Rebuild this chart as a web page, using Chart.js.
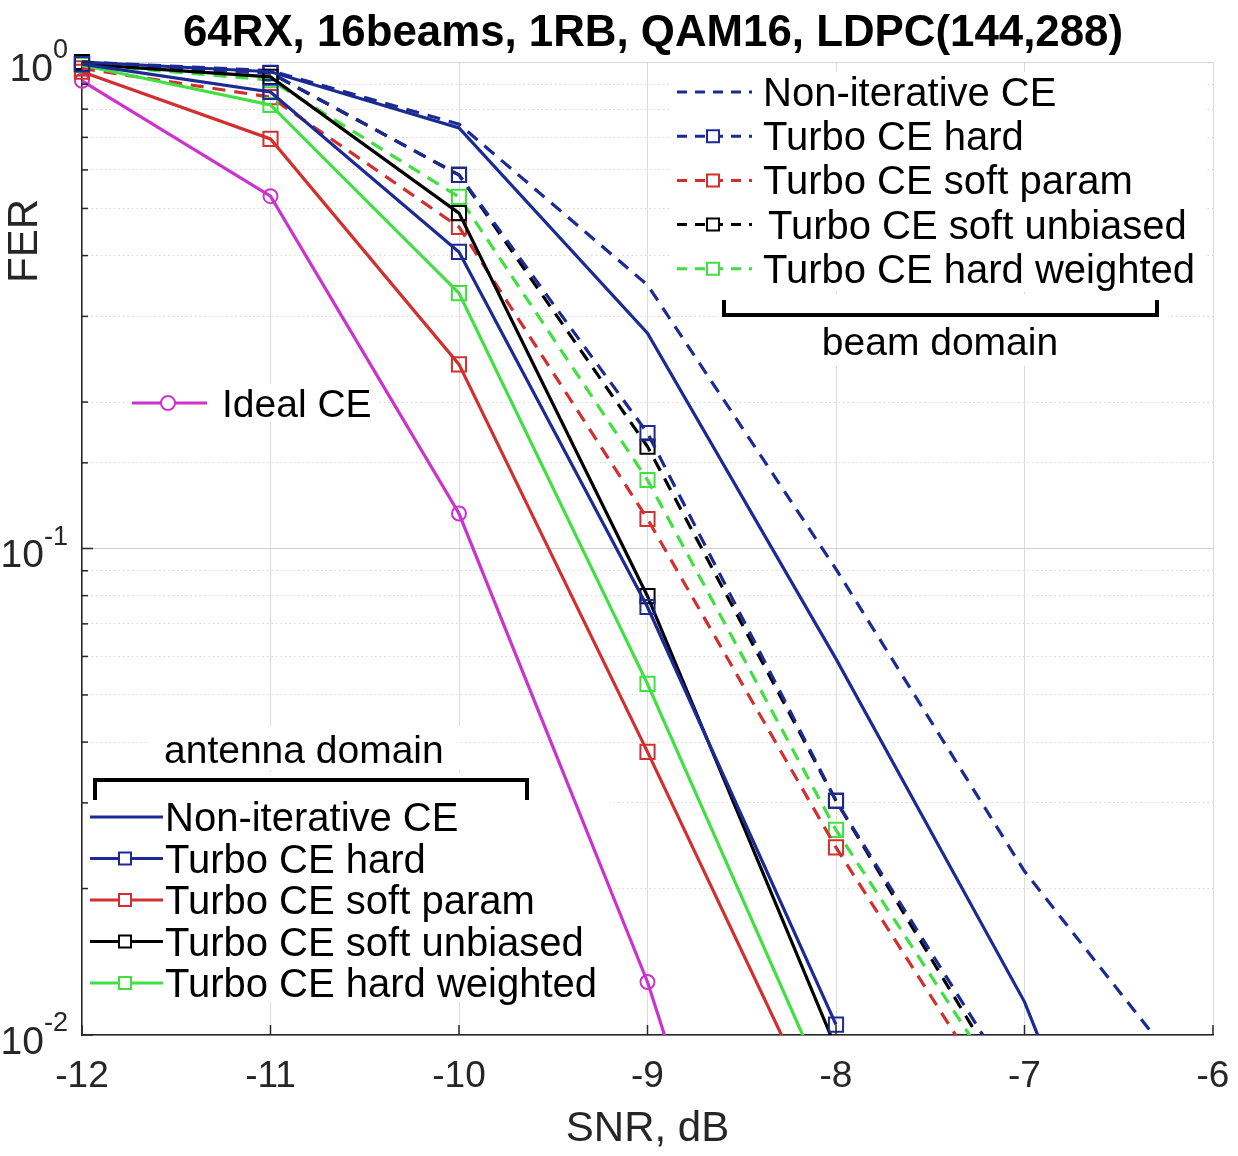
<!DOCTYPE html>
<html lang="en">
<head>
  <meta charset="UTF-8" />
  <title>FER vs SNR</title>
  <script src="https://cdn.jsdelivr.net/npm/chart.js"></script>
  <style>
    body { margin: 0; background: #fff; }
    #wrap { width: 1238px; height: 1156px; }
  </style>
</head>
<body>
  <div id="wrap"><canvas id="ferChart" width="1238" height="1156"></canvas></div>

  <script>
    // SNR grid (dB) and axis ticks
    const snr = [-12, -11, -10, -9, -8, -7, -6];
    const yTickValues = [1, 0.1, 0.01];
    const yTickExponents = ['0', '-1', '-2'];

    const titleText = '64RX, 16beams, 1RB, QAM16, LDPC(144,288)';
    const seriesLabels = ['Non-iterative CE', 'Turbo CE hard', 'Turbo CE soft param',
                          'Turbo CE soft unbiased', 'Turbo CE hard weighted'];

    // antenna domain (solid lines)
    const antNonIter   = [1.00, 0.955, 0.732, 0.277, 0.0593, 0.0117, 0.00125];
    const antHard      = [0.99, 0.868, 0.407, 0.0758, 0.0105, null, null];
    const antSoftParam = [0.955, 0.695, 0.239, 0.0382, 0.0058, null, null];
    const antSoftUnb   = [0.99, 0.932, 0.489, 0.0798, 0.0094, null, null];
    const antHardW     = [0.985, 0.816, 0.335, 0.0527, 0.0070, null, null];

    // beam domain (dashed lines)
    const beamNonIter   = [1.00, 0.96, 0.745, 0.348, 0.0907, 0.0217, 0.0070];
    const beamHard      = [0.99, 0.95, 0.586, 0.1727, 0.0303, 0.0073, null];
    const beamSoftParam = [0.97, 0.847, 0.458, 0.115, 0.0243, 0.0060, null];
    const beamSoftUnb   = [1.00, 0.949, 0.586, 0.162, 0.0303, 0.0069, null];
    const beamHardW     = [0.99, 0.918, 0.528, 0.1383, 0.0264, 0.0067, null];

    const idealCE = [0.915, 0.530, 0.118, 0.01285, 0.0008, null, null];

    const NAVY = '#1b2a94', RED = '#d22f2f', BLACK = '#000000', GREEN = '#3fe03f', MAGENTA = '#cc33cc';
    const FONT = '"Liberation Sans", Arial, sans-serif';

    function series(label, vals, color, group, marker) {
      return {
        label: label,
        group: group,
        data: snr.map((x, i) => ({ x: x, y: vals[i] })),
        borderColor: color,
        backgroundColor: color,
        borderWidth: 3.2,
        borderDash: group === 'beam' ? [13, 9] : [],
        pointStyle: marker || 'rect',
        pointRadius: marker === false ? 0 : (marker === 'circle' ? 7 : 10),
        pointHoverRadius: 0,
        pointBorderWidth: 2,
        pointBorderColor: color,
        pointBackgroundColor: 'rgba(0,0,0,0)',
        tension: 0,
        clip: { left: 14, top: 14, right: 14, bottom: 0 }
      };
    }

    const datasets = [
      series(seriesLabels[0], antNonIter, NAVY, 'antenna', false),
      series(seriesLabels[1], antHard, NAVY, 'antenna'),
      series(seriesLabels[2], antSoftParam, RED, 'antenna'),
      series(seriesLabels[3], antSoftUnb, BLACK, 'antenna'),
      series(seriesLabels[4], antHardW, GREEN, 'antenna'),
      series(seriesLabels[0], beamNonIter, NAVY, 'beam', false),
      series(seriesLabels[1], beamHard, NAVY, 'beam'),
      series(seriesLabels[2], beamSoftParam, RED, 'beam'),
      series(seriesLabels[3], beamSoftUnb, BLACK, 'beam'),
      series(seriesLabels[4], beamHardW, GREEN, 'beam'),
      series('Ideal CE', idealCE, MAGENTA, 'ideal', 'circle')
    ];

    const isDecade = v => Math.abs(Math.log10(v) - Math.round(Math.log10(v))) < 1e-6;

    function drawSample(ctx, ds, x1, x2, y, mx, dash) {
      ctx.save();
      ctx.strokeStyle = ds.borderColor;
      ctx.lineWidth = 3;
      ctx.setLineDash(dash);
      ctx.beginPath(); ctx.moveTo(x1, y); ctx.lineTo(x2, y); ctx.stroke();
      ctx.setLineDash([]);
      ctx.lineWidth = 2;
      if (ds.pointRadius > 0) {
        ctx.fillStyle = '#fff';
        ctx.beginPath();
        if (ds.pointStyle === 'circle') ctx.arc(mx, y, 7, 0, Math.PI * 2);
        else ctx.rect(mx - 6, y - 6, 12, 12);
        ctx.fill(); ctx.stroke();
      }
      ctx.restore();
    }

    function bracket(ctx, x1, x2, y, tip) {
      ctx.save();
      ctx.strokeStyle = '#000'; ctx.lineWidth = 4; ctx.lineJoin = 'miter';
      ctx.beginPath();
      ctx.moveTo(x1, y + tip); ctx.lineTo(x1, y); ctx.lineTo(x2, y); ctx.lineTo(x2, y + tip);
      ctx.stroke();
      ctx.restore();
    }

    const decor = {
      id: 'decor',
      beforeDatasetsDraw(chart) {
        const { ctx, chartArea: a, scales: { y } } = chart;
        ctx.save();
        // white backing of the pasted legends
        ctx.fillStyle = '#fff';
        ctx.fillRect(670, 72, 536, 220);
        ctx.fillRect(718, 294, 450, 72);
        ctx.fillRect(128, 384, 250, 38);
        ctx.fillRect(150, 726, 310, 44);
        ctx.fillRect(84, 772, 526, 230);
        // top edge
        ctx.strokeStyle = '#d4d4d4'; ctx.lineWidth = 1;
        const py = Math.round(y.getPixelForValue(1)) + 0.5;
        ctx.beginPath(); ctx.moveTo(a.left, py); ctx.lineTo(a.right, py); ctx.stroke();
        ctx.restore();
      },
      afterDatasetsDraw(chart) {
        const { ctx, chartArea: a, scales: { x, y } } = chart;
        ctx.save();
        // inward tick marks
        ctx.strokeStyle = '#262626'; ctx.lineWidth = 1.5;
        snr.forEach(v => {
          const px = x.getPixelForValue(v);
          ctx.beginPath(); ctx.moveTo(px, a.bottom); ctx.lineTo(px, a.bottom - 10); ctx.stroke();
        });
        y.ticks.forEach(t => {
          const py = y.getPixelForValue(t.value);
          ctx.beginPath(); ctx.moveTo(a.left, py); ctx.lineTo(a.left + (isDecade(t.value) ? 11 : 6), py); ctx.stroke();
        });

        // y tick labels with superscripts
        ctx.fillStyle = '#262626';
        ctx.textBaseline = 'middle';
        ctx.textAlign = 'left';
        yTickValues.forEach((v, i) => {
          const py = y.getPixelForValue(v);
          ctx.font = '27px ' + FONT;
          const ws = ctx.measureText(yTickExponents[i]).width;
          ctx.font = '39px ' + FONT;
          const wb = ctx.measureText('10').width;
          const right = 68;
          ctx.fillText('10', right - ws - wb, py + 8);
          ctx.font = '27px ' + FONT;
          ctx.fillText(yTickExponents[i], right - ws, py - 11);
        });

        // y axis title
        ctx.save();
        ctx.translate(37, 241);
        ctx.rotate(-Math.PI / 2);
        ctx.textAlign = 'center';
        ctx.textBaseline = 'alphabetic';
        ctx.font = '42px ' + FONT;
        ctx.fillText('FER', 0, 0);
        ctx.restore();

        // chart title
        ctx.save();
        ctx.fillStyle = '#000';
        ctx.font = 'bold 44px ' + FONT;
        ctx.textBaseline = 'alphabetic';
        ctx.textAlign = 'center';
        const tw = ctx.measureText(titleText).width;
        ctx.translate(653, 46);
        ctx.scale(940 / tw, 1);
        ctx.fillText(titleText, 0, 0);
        ctx.restore();

        // legends
        const ds = chart.data.datasets;
        ctx.fillStyle = '#000';
        ctx.textAlign = 'left';
        ctx.textBaseline = 'alphabetic';
        ctx.font = '40px ' + FONT;

        const beam = ds.filter(d => d.group === 'beam');
        beam.forEach((d, i) => {
          const cy = 92 + i * 44.2;
          drawSample(ctx, d, 677, 752, cy, 713, [10, 8]);
          ctx.fillText(d.label, i === 3 ? 768 : 763, cy + 14);
        });
        bracket(ctx, 724, 1157, 315, -15);
        ctx.font = '39px ' + FONT;
        ctx.textAlign = 'center';
        ctx.fillText('beam domain', 940, 355);

        const ant = ds.filter(d => d.group === 'antenna');
        ctx.font = '40px ' + FONT;
        ctx.textAlign = 'left';
        ant.forEach((d, i) => {
          const cy = 817 + i * 41.5;
          drawSample(ctx, d, 90, 163, cy, 125, []);
          ctx.fillText(d.label, 165, cy + 14);
        });
        bracket(ctx, 95, 527, 780, 20);
        ctx.font = '39px ' + FONT;
        ctx.fillText('antenna domain', 164, 763);

        const ideal = ds.filter(d => d.group === 'ideal');
        ideal.forEach(d => {
          drawSample(ctx, d, 132, 207, 403, 168, []);
          ctx.font = '39px ' + FONT;
          ctx.fillText(d.label, 222, 417);
        });
        ctx.restore();
      }
    };

    new Chart(document.getElementById('ferChart'), {
      type: 'line',
      data: { datasets: datasets },
      plugins: [decor],
      options: {
        responsive: false,
        animation: false,
        events: [],
        layout: { padding: { top: 62, right: 25, left: 0, bottom: 0 } },
        plugins: { legend: { display: false }, tooltip: { enabled: false }, title: { display: false } },
        scales: {
          x: {
            type: 'linear',
            min: -12,
            max: -6,
            afterFit: s => { s.height = 121; s.paddingLeft = 0; s.paddingRight = 0; },
            ticks: { stepSize: 1, padding: 20, color: '#262626', font: { family: FONT, size: 37 } },
            grid: { color: '#dcdcdc', lineWidth: 1, drawTicks: false },
            border: { display: true, color: '#262626', width: 1.5 },
            title: { display: true, text: 'SNR, dB', color: '#262626', font: { family: FONT, size: 42 }, padding: { top: 0, bottom: 1 } }
          },
          y: {
            type: 'logarithmic',
            min: 0.01,
            max: 1,
            afterFit: s => { s.width = 82; s.paddingTop = 0; s.paddingBottom = 0; },
            ticks: { display: false },
            grid: {
              drawTicks: false,
              lineWidth: 1,
              color: c => (c.tick && isDecade(c.tick.value)) ? '#d0d0d0' : '#d8d8d8'
            },
            border: {
              display: true, color: '#262626', width: 1.5,
              dash: c => (c.tick && !isDecade(c.tick.value)) ? [1.5, 3] : []
            }
          }
        }
      }
    });
  </script>
</body>
</html>
